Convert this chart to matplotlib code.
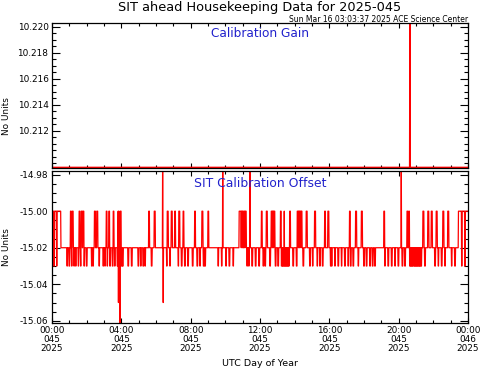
import numpy as np
import matplotlib.pyplot as plt
from matplotlib.ticker import MultipleLocator

plt.rcParams['font.family'] = ['DejaVu Sans']

# ---- data (time in hours of day 045) ----
# Calibration gain: flat with one spike near 20:40
gain_hours = [0.0, 20.63, 20.65, 20.67, 24.0]
gain_values = [10.2092, 10.2092, 10.2215, 10.2092, 10.2092]
gain_ticks = [10.212, 10.214, 10.216, 10.218, 10.220]

# Calibration offset: baseline level plus excursions
offset_base = -15.02
offset_high = -15.00
offset_low = -15.03
high_blocks = [(0.0, 0.50), (23.45, 24.0)]
high_pulses = [1.08, 1.19, 1.58, 1.71, 1.81, 2.48, 2.61, 3.16, 3.31, 3.54,
               3.83, 3.96, 5.60, 5.93, 6.68, 6.91, 7.10, 7.34, 7.58, 8.25,
               8.67, 9.02, 10.82, 10.88, 10.95, 11.02, 11.10, 11.18, 12.10,
               12.39, 12.68, 12.75, 12.82, 13.21, 13.40, 13.73, 14.17, 14.25,
               14.33, 14.40, 14.69, 15.17, 15.75, 15.94, 17.19, 17.54, 17.87,
               19.17, 20.50, 20.60, 21.42, 21.71, 21.91, 22.19, 22.58, 22.86]
low_pulses = [0.12, 0.27, 0.88, 1.00, 1.14, 1.27, 1.38, 1.52, 1.66, 1.86,
              2.00, 2.29, 2.38, 2.73, 2.96, 3.06, 3.19, 3.35, 3.50, 3.63,
              3.77, 4.02, 4.08, 4.40, 4.60, 4.98, 5.12, 5.27, 5.37, 5.75,
              6.62, 6.81, 7.29, 7.48, 7.67, 7.85, 8.12, 8.38, 8.54, 8.75,
              8.83, 9.59, 9.79, 10.04, 10.23, 10.46, 11.26, 11.36, 11.55,
              11.75, 11.95, 12.19, 12.30, 12.58, 12.90, 13.05, 13.25, 13.31,
              13.37, 13.43, 13.49, 13.55, 13.61, 13.67, 13.92, 14.12, 14.50,
              14.88, 15.04, 15.31, 15.46, 15.62, 16.08, 16.14, 16.33, 16.52,
              16.71, 16.90, 17.09, 17.23, 17.38, 17.67, 18.00, 18.15, 18.35,
              18.50, 18.63, 19.21, 19.40, 19.60, 19.79, 19.98, 20.22, 20.37,
              20.65, 20.71, 20.77, 20.83, 20.89, 20.95, 21.01, 21.07, 21.13,
              21.19, 21.25, 21.31, 21.52, 22.10, 22.29, 22.48, 22.67, 23.06,
              23.25, 23.64, 23.83]
spike_hours = [3.83, 3.92, 6.39, 6.42, 9.85, 11.42, 20.15]
spike_values = [-15.05, -15.07, -14.97, -15.05, -14.97, -14.97, -14.97]

tick_hours = [0, 4, 8, 12, 16, 20, 24]
tick_labels = ['00:00\n045\n2025', '04:00\n045\n2025', '08:00\n045\n2025',
               '12:00\n045\n2025', '16:00\n045\n2025', '20:00\n045\n2025',
               '00:00\n046\n2025']

# build the offset series on a one minute grid
t = np.arange(0, 24 * 60 + 1) / 60.0
offset = np.full(t.size, offset_base)
for a, b in high_blocks:
    offset[(t >= a) & (t <= b)] = offset_high
for h in high_pulses:
    offset[np.abs(t - h) <= 0.03] = offset_high
for h in low_pulses:
    offset[np.abs(t - h) <= 0.02] = offset_low
for h, v in zip(spike_hours, spike_values):
    offset[np.argmin(np.abs(t - h))] = v

fig = plt.figure(figsize=(4.81, 3.70), dpi=100)
ax1 = fig.add_axes([52 / 481, 1 - 168 / 370, 416 / 481, 145 / 370])
ax2 = fig.add_axes([52 / 481, 1 - 323 / 370, 416 / 481, 152 / 370])

red = '#ff0000'
blue = '#2222cc'
fs = 6.4

ax1.plot(gain_hours, gain_values, color=red, lw=1.0)
ax1.set_ylim(10.20915, 10.2203)
ax1.set_yticks(gain_ticks)
ax1.yaxis.set_minor_locator(MultipleLocator(0.0005))
ax1.yaxis.set_major_formatter(plt.FormatStrFormatter('%.3f'))
ax1.text(0.5, 0.93, 'Calibration Gain', transform=ax1.transAxes, ha='center',
         va='center', color=blue, fontsize=8.7)

ax2.plot(t, offset, color=red, lw=0.9)
ax2.set_ylim(-15.0612, -14.978)
ax2.yaxis.set_major_locator(MultipleLocator(0.02))
ax2.yaxis.set_minor_locator(MultipleLocator(0.005))
ax2.yaxis.set_major_formatter(plt.FormatStrFormatter('%.2f'))
ax2.text(0.5, 0.92, 'SIT Calibration Offset', transform=ax2.transAxes,
         ha='center', va='center', color=blue, fontsize=8.9)

for ax in (ax1, ax2):
    ax.set_xlim(0, 24)
    ax.set_xticks(tick_hours)
    ax.xaxis.set_minor_locator(MultipleLocator(1))
    ax.tick_params(axis='both', which='both', direction='in', top=True,
                   right=True, labelsize=fs, width=0.8, pad=2.5)
    ax.tick_params(axis='x', which='major', length=3.6)
    ax.tick_params(axis='x', which='minor', length=2.0)
    ax.tick_params(axis='y', which='major', length=5.8)
    ax.tick_params(axis='y', which='minor', length=2.9)
    for s in ax.spines.values():
        s.set_linewidth(0.9)
    ax.set_ylabel('No Units', fontsize=fs)

ax1.set_xticklabels([])
ax2.set_xticklabels(tick_labels, linespacing=0.95)
ax1.yaxis.set_label_coords(-0.098, 0.36)
ax2.yaxis.set_label_coords(-0.098, 0.5)

fig.text(260 / 481, 1 - 7 / 370, 'SIT ahead Housekeeping Data for 2025-045',
         ha='center', va='center', fontsize=9.3)
fig.text(468 / 481, 1 - 19 / 370, 'Sun Mar 16 03:03:37 2025 ACE Science Center',
         ha='right', va='center', fontsize=5.5)
fig.text(260 / 481, 1 - 364 / 370, 'UTC Day of Year', ha='center',
         va='center', fontsize=6.8)

fig.savefig('out.png', dpi=100)
